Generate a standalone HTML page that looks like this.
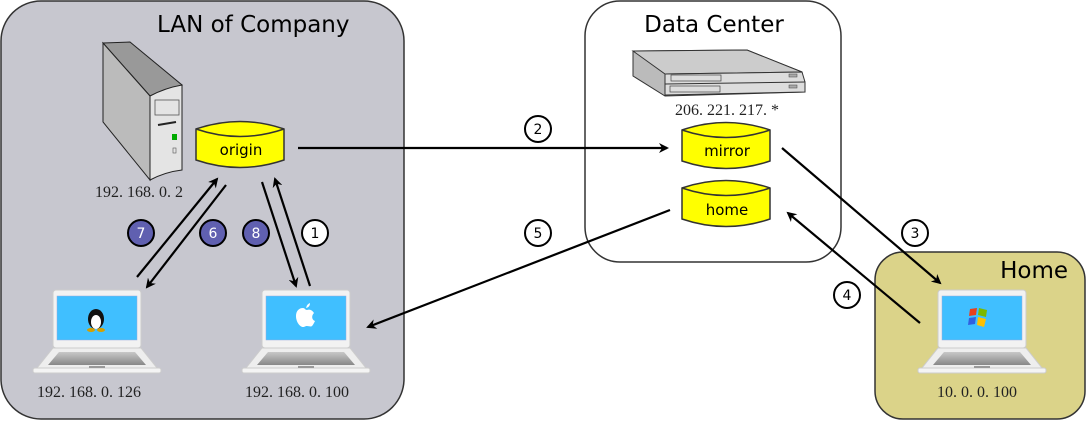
<!DOCTYPE html>
<html><head><meta charset="utf-8"><style>html,body{margin:0;padding:0;background:#fff}svg{display:block}</style></head><body>
<svg width="1087" height="421" viewBox="0 0 1087 421" xmlns="http://www.w3.org/2000/svg">
<defs>
<marker id="ah" markerWidth="10" markerHeight="10" refX="8" refY="5" orient="auto" markerUnits="userSpaceOnUse"><path d="M0,0 L10,5 L0,10 L3,5 Z" fill="#000"/></marker>
<linearGradient id="base" x1="0" y1="0" x2="0" y2="1"><stop offset="0" stop-color="#c8c8c8"/><stop offset="1" stop-color="#888"/></linearGradient>
<g id="laptop">
<rect x="20" y="0" width="88" height="58" rx="3" fill="#f2f2f2" stroke="#ccc"/>
<rect x="24" y="6" width="80" height="44" fill="#40bfff" stroke="#9ad" stroke-width="0.5"/>
<path d="M20,58 L108,58 L124,78 L4,78 Z" fill="#eee" stroke="#ccc"/>
<path d="M26,62 L102,62 L113,75 L15,75 Z" fill="url(#base)"/>
<rect x="0" y="78" width="128" height="5" rx="2" fill="#f4f4f4" stroke="#ccc"/>
<rect x="56" y="76" width="16" height="2" fill="#999"/>
</g>
<g id="cyl">
<path d="M0,7 Q44,-8 88,7 L88,38 Q44,53 0,38 Z" fill="#ff0" stroke="#333" stroke-width="1.5"/>
<path d="M0,7 Q44,22 88,7" fill="none" stroke="#333" stroke-width="1.5"/>
</g>
</defs>
<rect x="1" y="1" width="403" height="418" rx="40" fill="#c7c7cf" stroke="#333" stroke-width="1.5"/>
<rect x="585" y="1" width="256" height="261" rx="35" fill="#fff" stroke="#333" stroke-width="1.5"/>
<rect x="875" y="252" width="210" height="167" rx="28" fill="#dbd389" stroke="#333" stroke-width="1.5"/>
<g font-family="'DejaVu Sans','Liberation Sans',sans-serif" font-size="23" fill="#000">
<text x="157" y="32">LAN of Company</text>
<text x="714" y="32" text-anchor="middle">Data Center</text>
<text x="1068" y="278" text-anchor="end">Home</text>
</g>
<path d="M103,43 L130,42 L182,85 L150,96 Z" fill="#999" stroke="#222"/>
<path d="M103,43 L150,96 L150,180 L103,122 Z" fill="#bbb" stroke="#222"/>
<path d="M150,96 Q165,88 182,85 L182,170 Q165,172 150,180 Z" fill="#e4e4e4" stroke="#222"/>
<rect x="155" y="100" width="24" height="15" fill="none" stroke="#555" stroke-width="0.8"/>
<line x1="158" y1="125" x2="176" y2="122" stroke="#222" stroke-width="2"/>
<rect x="172" y="134" width="5" height="6" fill="#0a0"/>
<rect x="173" y="148" width="3" height="5" fill="none" stroke="#555" stroke-width="0.6"/>
<path d="M633,51 L747,50 L802,72 L805,92 L665,96 L633,76 Z" fill="#bbb" stroke="#333"/>
<path d="M633,51 L747,50 L802,72 L665,74 Z" fill="#ccc" stroke="#333"/>
<path d="M665,74 L802,72 L805,82 L665,84 Z M665,84 L805,82 L805,92 L665,95 Z" fill="#ddd" stroke="#333"/>
<rect x="671" y="75" width="50" height="6" fill="none" stroke="#444" stroke-width="0.7"/>
<rect x="670" y="86" width="50" height="6" fill="none" stroke="#444" stroke-width="0.7"/>
<rect x="789" y="74" width="8" height="3" fill="#aaa" stroke="#444" stroke-width="0.5"/>
<rect x="789" y="85" width="8" height="3" fill="#aaa" stroke="#444" stroke-width="0.5"/>
<use href="#cyl" x="196" y="122"/>
<use href="#cyl" x="682" y="123"/>
<use href="#cyl" x="682" y="181"/>
<g font-family="'DejaVu Sans','Liberation Sans',sans-serif" font-size="15" text-anchor="middle">
<text x="241" y="155">origin</text>
<text x="727" y="156">mirror</text>
<text x="727" y="215">home</text>
</g>
<use href="#laptop" x="33" y="290"/>
<use href="#laptop" x="242" y="290"/>
<use href="#laptop" x="918" y="290"/>
<ellipse cx="96" cy="319" rx="8" ry="10" fill="#111"/>
<ellipse cx="96" cy="322" rx="5" ry="7" fill="#fff"/>
<ellipse cx="91" cy="330" rx="4" ry="2" fill="#d4a000"/><ellipse cx="101" cy="330" rx="4" ry="2" fill="#d4a000"/>
<path d="M303,308 C299,308 296,311 296,316 C296,322 300,327 303,327 C305,327 305,326 307,326 C309,326 311,327 312,326 C313,325 314,323 315,321 C312,320 311,316 314,313 C312,310 310,309 307,310 C305,310 305,308 303,308 Z" fill="#fff"/>
<path d="M306,308 Q307,304 310,303 Q310,307 306,308 Z" fill="#fff"/>
<path d="M970,309 L977,308 L976,315 L969,316 Z" fill="#e8401c"/>
<path d="M979,308 L987,310 L986,317 L978,315 Z" fill="#7cb800"/>
<path d="M969,318 L976,317 L975,324 L968,325 Z" fill="#3060e0"/>
<path d="M978,317 L986,319 L984,327 L977,325 Z" fill="#ffc000"/>
<g font-family="'Liberation Serif','Noto Serif CJK SC',serif" font-size="16" fill="#222" text-anchor="middle">
<text x="139" y="197">192. 168. 0. 2</text>
<text x="727" y="115">206. 221. 217. *</text>
<text x="89" y="397">192. 168. 0. 126</text>
<text x="297" y="397">192. 168. 0. 100</text>
<text x="977" y="397">10. 0. 0. 100</text>
</g>
<g stroke="#000" stroke-width="2.2" fill="none" marker-end="url(#ah)">
<line x1="298" y1="148" x2="667" y2="148"/>
<line x1="782" y1="148" x2="940" y2="283"/>
<line x1="920" y1="323" x2="788" y2="213"/>
<line x1="670" y1="210" x2="368" y2="327"/>
<line x1="137" y1="277" x2="217" y2="179"/>
<line x1="226" y1="185" x2="147" y2="287"/>
<line x1="262" y1="182" x2="296" y2="286"/>
<line x1="310" y1="286" x2="275" y2="179"/>
</g>
<g font-family="'DejaVu Sans','Liberation Sans',sans-serif" font-size="14" text-anchor="middle" stroke-width="2">
<circle cx="141" cy="233" r="13" fill="#6060b0" stroke="#000"/><text x="141" y="238" fill="#fff">7</text>
<circle cx="213" cy="233" r="13" fill="#6060b0" stroke="#000"/><text x="213" y="238" fill="#fff">6</text>
<circle cx="256" cy="233" r="13" fill="#6060b0" stroke="#000"/><text x="256" y="238" fill="#fff">8</text>
<circle cx="315" cy="233" r="13" fill="#fff" stroke="#000"/><text x="315" y="238">1</text>
<circle cx="538" cy="129" r="13" fill="#fff" stroke="#000"/><text x="538" y="134">2</text>
<circle cx="915" cy="233" r="13" fill="#fff" stroke="#000"/><text x="915" y="238">3</text>
<circle cx="847" cy="295" r="13" fill="#fff" stroke="#000"/><text x="847" y="300">4</text>
<circle cx="538" cy="233" r="13" fill="#fff" stroke="#000"/><text x="538" y="238">5</text>
</g>
</svg>
</body></html>
